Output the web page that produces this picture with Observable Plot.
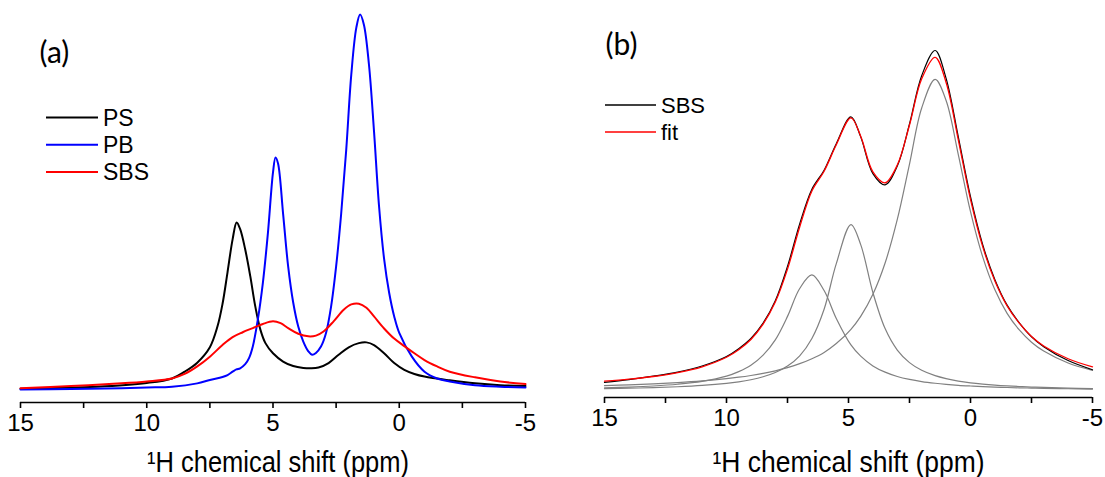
<!DOCTYPE html>
<html>
<head>
<meta charset="utf-8">
<script src="https://cdn.jsdelivr.net/npm/d3@7"></script>
<script src="https://cdn.jsdelivr.net/npm/@observablehq/plot@0.6"></script>
<style>
  html, body { margin: 0; padding: 0; background: #fff; }
  #page { position: relative; width: 1105px; height: 477px; overflow: hidden; font-family: "Liberation Sans", Arial, sans-serif; }
  .panel { position: absolute; top: 0; }
</style>
</head>
<body>
<div id="page"></div>
<script>
// ---- axis ticks (ppm) ----
const majorTicks = [15, 10, 5, 0, -5];
const minorTicks = [12.5, 7.5, 2.5, -2.5];

// ---- panel (a): 1H spectra of PS, PB and SBS ----
const ppmPS = [15, 12, 10, 9, 8.5, 8, 7.5, 7.2, 7.0, 6.8, 6.6, 6.44, 6.3, 6.1, 5.9, 5.7, 5.5, 5.3, 5.0, 4.6, 4.2, 3.8, 3.5, 3.2, 2.8, 2.4, 2.0, 1.6, 1.3, 1.0, 0.6, 0.2, -0.2, -0.6, -1, -2, -3, -4, -5];
const intPS = [0.5, 1.0, 2.0, 3.2, 5.0, 7.4, 11.5, 17.0, 23.0, 31.5, 40.2, 44.7, 42.9, 37.5, 30.4, 22.3, 16.2, 12.6, 9.9, 7.7, 6.5, 6.0, 5.9, 6.1, 7.3, 9.5, 11.5, 12.6, 12.8, 12.1, 9.9, 7.3, 5.5, 4.4, 3.7, 2.7, 1.9, 1.4, 1.2];

const ppmPB = [15, 13, 11, 10, 9, 8, 7.5, 7, 6.8, 6.6, 6.45, 6.3, 6.1, 5.95, 5.8, 5.6, 5.4, 5.2, 5.0, 4.9, 4.8, 4.6, 4.4, 4.2, 4.0, 3.8, 3.6, 3.45, 3.3, 3.1, 2.9, 2.7, 2.5, 2.3, 2.1, 1.9, 1.7, 1.55, 1.4, 1.2, 1.0, 0.8, 0.6, 0.4, 0.2, 0, -0.5, -1, -1.5, -2, -3, -4, -5];
const intPB = [0.3, 0.4, 0.6, 0.8, 1.0, 1.9, 2.8, 3.6, 4.1, 5.0, 5.6, 5.9, 7.0, 8.6, 11.7, 18.9, 28.7, 42, 58, 62, 60.4, 47, 33, 23.4, 17, 13, 10.4, 9.5, 10, 11.7, 15.3, 22.3, 33, 47, 64, 84, 96.5, 100, 97.3, 86.7, 69, 49, 35, 26, 19.7, 15.3, 9, 5, 3.2, 2.4, 1.4, 1.0, 0.8];

const ppmSBSa = [15, 13, 11, 10, 9, 8.5, 8, 7.5, 7.0, 6.6, 6.2, 5.8, 5.4, 5.0, 4.7, 4.4, 4.0, 3.6, 3.3, 3.0, 2.6, 2.2, 1.9, 1.6, 1.3, 1.0, 0.6, 0.2, -0.2, -0.6, -1, -1.5, -2, -3, -4, -5];
const intSBSa = [0.6, 1.2, 1.9, 2.4, 3.2, 4.4, 6.4, 9, 12.1, 14.2, 15.5, 16.6, 17.7, 18.4, 17.9, 16.6, 15.1, 14.4, 14.6, 15.7, 18.4, 21.5, 22.9, 23.1, 22, 19.7, 16.5, 13.8, 11.8, 9.9, 8.1, 6.4, 5, 3.5, 2.4, 1.7];

// ---- panel (b): SBS spectrum, its fit and the three fitted components ----
const ppmB = [15, 14, 13, 12, 11, 10, 9.5, 9, 8.5, 8, 7.5, 7, 6.5, 6, 5.5, 4.9, 4.5, 4, 3.5, 3, 2.5, 2, 1.45, 1, 0.5, 0, -0.5, -1, -1.5, -2, -2.5, -3, -4, -5];
const intSBSb = [2.4, 3.2, 4.2, 5.4, 7.2, 10.0, 12.3, 15.3, 19.8, 26.4, 36.5, 49.0, 59.2, 64.8, 72.6, 80.5, 74.6, 63.8, 60.5, 66.0, 78.4, 92.6, 100, 91.8, 74.6, 57.0, 42.9, 32.6, 25.1, 19.9, 15.8, 12.9, 8.8, 6.1];
const intFit = [2.76, 3.34, 4.12, 5.26, 6.98, 9.79, 12.0, 15.0, 19.5, 26.0, 35.7, 48.1, 58.7, 64.5, 72.3, 80.2, 74.8, 64.3, 61.1, 66.3, 78.1, 91.7, 98.0, 90.6, 73.7, 56.2, 42.3, 32.2, 24.9, 19.8, 15.9, 13.1, 9.33, 6.94];
const intComp1 = [1.42, 1.65, 1.94, 2.32, 2.82, 3.49, 3.91, 4.42, 5.03, 5.79, 6.73, 7.89, 9.35, 11.2, 13.8, 18.0, 21.8, 28.3, 37.5, 50.3, 66.6, 83.1, 91.5, 85.3, 69.4, 52.6, 39.3, 29.6, 22.7, 17.8, 14.2, 11.6, 8.1, 5.94];
const intComp2 = [0.55, 0.68, 0.85, 1.10, 1.48, 2.09, 2.55, 3.17, 4.03, 5.28, 7.18, 10.2, 15.3, 23.9, 37.3, 48.8, 42.9, 28.8, 18.2, 11.9, 8.2, 5.94, 4.36, 3.49, 2.77, 2.26, 1.88, 1.58, 1.35, 1.17, 1.02, 0.90, 0.71, 0.57];
const intComp3 = [0.79, 1.01, 1.33, 1.84, 2.68, 4.21, 5.54, 7.42, 10.4, 14.9, 21.8, 30.0, 34.0, 29.4, 21.2, 13.4, 10.1, 7.23, 5.39, 4.12, 3.26, 2.63, 2.13, 1.81, 1.53, 1.32, 1.14, 1.00, 0.88, 0.79, 0.70, 0.63, 0.52, 0.43];

const seriesA = [
  {name: "PS", color: "#000000", ppm: ppmPS, val: intPS, w: 2},
  {name: "PB", color: "#0000ff", ppm: ppmPB, val: intPB, w: 2},
  {name: "SBS", color: "#ff0000", ppm: ppmSBSa, val: intSBSa, w: 2}
];
const seriesB = [
  {name: "comp1", color: "#808080", ppm: ppmB, val: intComp1, w: 1.2},
  {name: "comp2", color: "#808080", ppm: ppmB, val: intComp2, w: 1.2},
  {name: "comp3", color: "#808080", ppm: ppmB, val: intComp3, w: 1.2},
  {name: "SBS", color: "#000000", ppm: ppmB, val: intSBSb, w: 1.2},
  {name: "fit", color: "#ff0000", ppm: ppmB, val: intFit, w: 1.3}
];

const rows = s => s.ppm.map((p, i) => ({ppm: p, v: s.val[i]}));
const axisTitle = "\u00B9H chemical shift (ppm)";
const fmt = d => String(d);

// legend: short line swatch followed by the series name
function drawLegend(svg, items, x0, y0, gap, len, font) {
  const ns = "http://www.w3.org/2000/svg";
  const g = document.createElementNS(ns, "g");
  g.setAttribute("text-anchor", "start");
  items.forEach((it, i) => {
    const y = y0 + i * gap;
    const line = document.createElementNS(ns, "line");
    line.setAttribute("x1", x0); line.setAttribute("x2", x0 + len);
    line.setAttribute("y1", y); line.setAttribute("y2", y);
    line.setAttribute("stroke", it.color); line.setAttribute("stroke-width", it.lw);
    g.appendChild(line);
    const t = document.createElementNS(ns, "text");
    t.setAttribute("x", x0 + len + 5); t.setAttribute("y", y);
    t.setAttribute("dy", "0.36em");
    t.setAttribute("font-size", font);
    t.setAttribute("text-anchor", "start");
    t.setAttribute("fill", "#000");
    t.textContent = it.name;
    g.appendChild(t);
  });
  svg.appendChild(g);
}

function build(opts) {
  const svg = Plot.plot({
    width: opts.width, height: 477,
    marginLeft: opts.marginLeft, marginRight: opts.marginRight, marginTop: opts.marginTop, marginBottom: opts.marginBottom,
    x: {domain: [15, -5]},
    y: {domain: [opts.yMin, 100], axis: null},
    style: {fontFamily: "'Liberation Sans', Arial, sans-serif", background: "transparent", overflow: "visible", color: "#000"},
    marks: [
      Plot.ruleY([opts.yMin], {stroke: "#000", strokeWidth: 1.6}),
      Plot.axisX({ticks: majorTicks, tickSize: 6, tickPadding: 5, tickFormat: fmt, fontSize: 24, label: null, strokeWidth: 1.6}),
      Plot.axisX({ticks: minorTicks, tickSize: 6, tickFormat: () => "", label: null, strokeWidth: 1.6}),
      ...opts.series.map(s => Plot.line(rows(s), {x: "ppm", y: "v", stroke: s.color, strokeWidth: s.w, curve: "catmull-rom"})),
      Plot.text([axisTitle], {frameAnchor: "bottom", dx: opts.titleDx, dy: opts.titleDy, fontSize: 29, lineAnchor: "middle"}),
      Plot.text([opts.tag], {frameAnchor: "top-left", dx: opts.tagDx, dy: opts.tagDy, fontSize: 30, fontFamily: "Lato, 'Open Sans', sans-serif", textAnchor: "start", lineAnchor: "middle"})
    ]
  });
  // condensed axis title, as in the original figure
  svg.querySelectorAll("text").forEach(t => {
    if (t.textContent === axisTitle) {
      t.setAttribute("textLength", opts.titleLen);
      t.setAttribute("lengthAdjust", "spacingAndGlyphs");
    }
  });
  drawLegend(svg, opts.legend, opts.legendX, opts.legendY, opts.legendGap, opts.legendLen, opts.legendFont);
  return svg;
}

const page = document.getElementById("page");

const plotA = build({
  width: 552, marginLeft: 20, marginRight: 27, marginTop: 14, marginBottom: 75, yMin: -3.19,
  series: seriesA, tag: "(a)", tagDx: 19, tagDy: 39, titleDx: 5, titleDy: 60, titleLen: 262,
  legend: seriesA.map(s => ({name: s.name, color: s.color, lw: 2})),
  legendX: 46, legendY: 117.5, legendGap: 27.2, legendLen: 52, legendFont: 23
});
plotA.classList.add("panel");
plotA.style.left = "0px";
page.appendChild(plotA);

const plotB = build({
  width: 553, marginLeft: 52, marginRight: 13, marginTop: 50, marginBottom: 80, yMin: -2.06,
  series: seriesB, tag: "(b)", tagDx: 1, tagDy: -5, titleDx: 0, titleDy: 65, titleLen: 272,
  legend: seriesB.slice(3).map(s => ({name: s.name, color: s.color, lw: 1.3})),
  legendX: 53, legendY: 105, legendGap: 27, legendLen: 51, legendFont: 22
});
plotB.classList.add("panel");
plotB.style.left = "552px";
page.appendChild(plotB);
</script>
</body>
</html>
